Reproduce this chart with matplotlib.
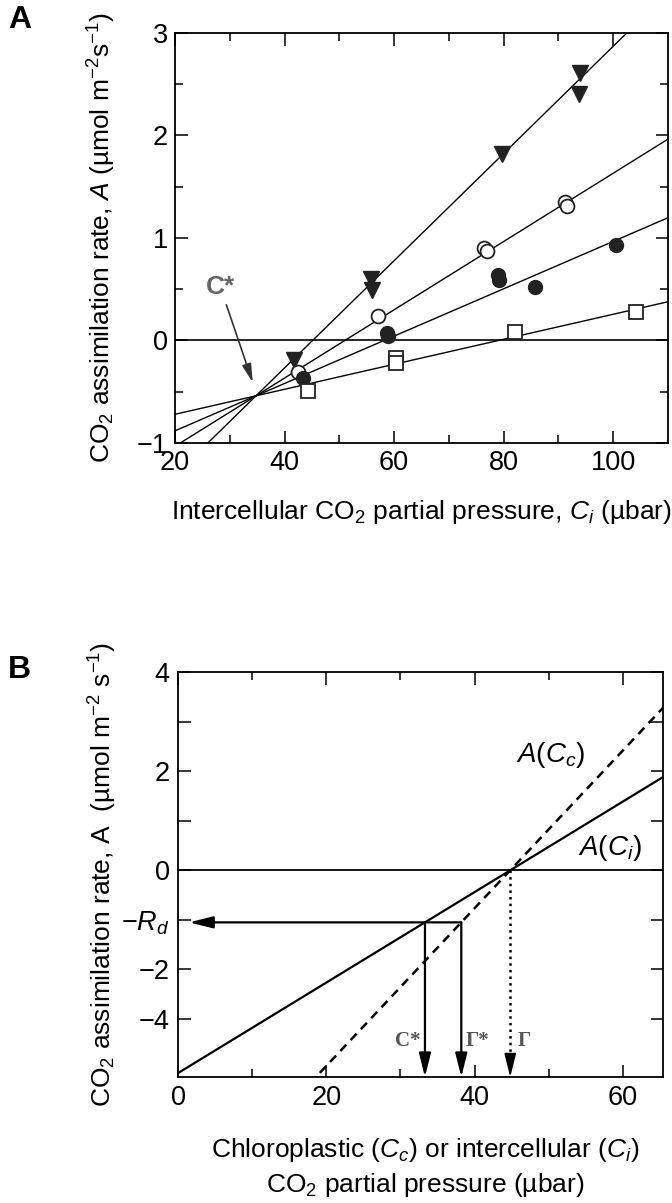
import numpy as np
import matplotlib
matplotlib.use("Agg")
import matplotlib.pyplot as plt

plt.rcParams['font.family'] = ['Liberation Sans', 'DejaVu Sans']
plt.rcParams['mathtext.fontset'] = 'custom'
plt.rcParams['mathtext.rm'] = 'Liberation Sans'
plt.rcParams['mathtext.it'] = 'Liberation Sans:italic'
plt.rcParams['mathtext.bf'] = 'Liberation Sans:bold'

# --- panel A : measured points (Ci, A) ---
tri_x = [41.8, 55.8, 55.9, 79.7, 93.9, 93.8]
tri_y = [-0.19, 0.60, 0.49, 1.82, 2.61, 2.40]
open_x = [42.4, 57.0, 76.4, 77.0, 91.2, 91.6]
open_y = [-0.31, 0.24, 0.90, 0.87, 1.35, 1.31]
fill_x = [43.3, 58.7, 58.9, 79.0, 79.2, 85.8, 100.6]
fill_y = [-0.37, 0.07, 0.04, 0.64, 0.59, 0.52, 0.93]
sq_x = [44.2, 60.3, 60.4, 82.1, 104.2]
sq_y = [-0.49, -0.17, -0.22, 0.08, 0.28]

# fitted lines all cross at C*
cstar_a = (34.8, -0.54)
slopes_a = [0.0523, 0.0333, 0.0231, 0.0122]

# --- panel B : schematic ---
c_star = 33.3
gamma_star = 38.2
gamma = 44.8
rd = 1.05
b_yticks = [4, 3, 2, 1, 0, -1, -2, -3]
b_ylabels = ['4', '', '2', '', '0', r'$-R_d$', '\u22122', '\u22124']

fig = plt.figure(figsize=(6.72, 12.03), dpi=100)

LAB = 19
TCK = 19.5
HEAD = '-|>,head_length=0.8,head_width=0.2'

# ================= A =================
ax = fig.add_axes([0.2604, 0.6318, 0.7336, 0.3408])
ax.set_xlim(20, 110)
ax.set_ylim(-1, 3)
xs = np.array([20, 110])
for s in slopes_a:
    ax.plot(xs, cstar_a[1] + s * (xs - cstar_a[0]), color='black', lw=1.0)
ax.axhline(0, color='black', lw=1.2)

ax.plot(tri_x, tri_y, 'v', ms=11, color='#222222', mec='#222222')
ax.plot(open_x, open_y, 'o', ms=10, mfc='white', mec='#222222', mew=1.3)
ax.plot(fill_x, fill_y, 'o', ms=10, color='#222222')
ax.plot(sq_x, sq_y, 's', ms=10, mfc='white', mec='#222222', mew=1.3)

ax.annotate('C*', xy=(34.2, -0.41), xytext=(28.3, 0.40), color='#666666',
            fontsize=19, fontweight='bold', ha='center', va='bottom',
            arrowprops=dict(arrowstyle=HEAD, color='#333333', lw=1.2,
                            mutation_scale=14, shrinkA=2, shrinkB=0))

ax.set_xticks([20, 40, 60, 80, 100])
ax.set_xticks([30, 50, 70, 90], minor=True)
ax.set_yticks([-1, 0, 1, 2, 3])
ax.set_yticklabels(['\u22121', '0', '1', '2', '3'])
ax.set_yticks([-0.5, 0.5, 1.5, 2.5], minor=True)
ax.tick_params(which='both', direction='in', top=True, right=True, labelsize=TCK, width=1.1)
ax.tick_params(which='major', length=9, pad=5)
ax.tick_params(which='minor', length=6)
ax.set_xlabel('Intercellular CO$_2$ partial pressure, $C_i$ (\u00b5bar)', fontsize=LAB)
ax.xaxis.set_label_coords(0.5, -0.135)
ax.set_ylabel('CO$_2$ assimilation rate, $A$ (\u00b5mol m$^{-2}$s$^{-1}$)', fontsize=LAB)
ax.yaxis.set_label_coords(-0.115, 0.5)
for sp in ax.spines.values():
    sp.set_linewidth(1.3)
fig.text(0.012, 0.983, 'A', fontsize=23, fontweight='bold', va='center')

# ================= B =================
bx = fig.add_axes([0.2649, 0.1047, 0.7217, 0.3367])
bx.set_xlim(0, 65.4)
bx.set_ylim(-4.17, 4)
xb = np.array([0, 65.4])
bx.plot(xb, rd / (gamma - c_star) * (xb - gamma), color='black', lw=1.6)
bx.plot(xb, rd / (gamma - gamma_star) * (xb - gamma), color='black', lw=1.8,
        ls=(0, (3.5, 2.5)))
bx.axhline(0, color='black', lw=1.3)

bot = -4.17
# horizontal arrow to -Rd
bx.annotate('', xy=(1.5, -rd), xytext=(gamma_star, -rd),
            arrowprops=dict(arrowstyle=HEAD, color='black', lw=1.6,
                            mutation_scale=18, shrinkA=0, shrinkB=0))
for xv in [c_star, gamma_star]:
    bx.annotate('', xy=(xv, bot), xytext=(xv, -rd),
                arrowprops=dict(arrowstyle=HEAD, color='black', lw=1.6,
                                mutation_scale=18, shrinkA=0, shrinkB=0))
# dotted drop from Gamma, solid head at the bottom
bx.plot([gamma, gamma], [0, bot + 0.3], color='black', lw=1.8, ls=':')
bx.annotate('', xy=(gamma, bot), xytext=(gamma, bot + 0.35),
            arrowprops=dict(arrowstyle=HEAD, color='black', lw=1.2,
                            mutation_scale=18, shrinkA=0, shrinkB=0))

lab_kw = dict(color='#555555', fontsize=15, fontweight='bold', va='center',
              family=['Liberation Serif', 'DejaVu Serif'])
bx.text(c_star - 0.6, -3.45, 'C*', ha='right', **lab_kw)
bx.text(gamma_star + 0.6, -3.45, '\u0393*', ha='left', **lab_kw)
bx.text(gamma + 1.0, -3.45, '\u0393', ha='left', **lab_kw)

bx.text(50.3, 2.32, '$A$($C_c$)', fontsize=20, ha='center', va='center')
bx.text(58.3, 0.46, '$A$($C_i$)', fontsize=20, ha='center', va='center')

bx.set_xticks([0, 20, 40, 60])
bx.set_xticks([10, 30, 50], minor=True)
bx.set_yticks(b_yticks)
bx.set_yticklabels(b_ylabels)
bx.tick_params(which='both', direction='in', top=True, right=True, labelsize=TCK, width=1.1)
bx.tick_params(which='major', length=9, pad=6)
bx.tick_params(which='minor', length=6)
bx.set_xlabel('Chloroplastic ($C_c$) or intercellular ($C_i$)\nCO$_2$ partial pressure (\u00b5bar)',
              fontsize=LAB, linespacing=1.35)
bx.xaxis.set_label_coords(0.51, -0.145)
bx.set_ylabel('CO$_2$ assimilation rate, A  (\u00b5mol m$^{-2}$ s$^{-1}$)', fontsize=LAB)
bx.yaxis.set_label_coords(-0.122, 0.5)
for sp in bx.spines.values():
    sp.set_linewidth(1.3)
fig.text(0.012, 0.443, 'B', fontsize=23, fontweight='bold', va='center')

fig.savefig('out.png', dpi=100)
